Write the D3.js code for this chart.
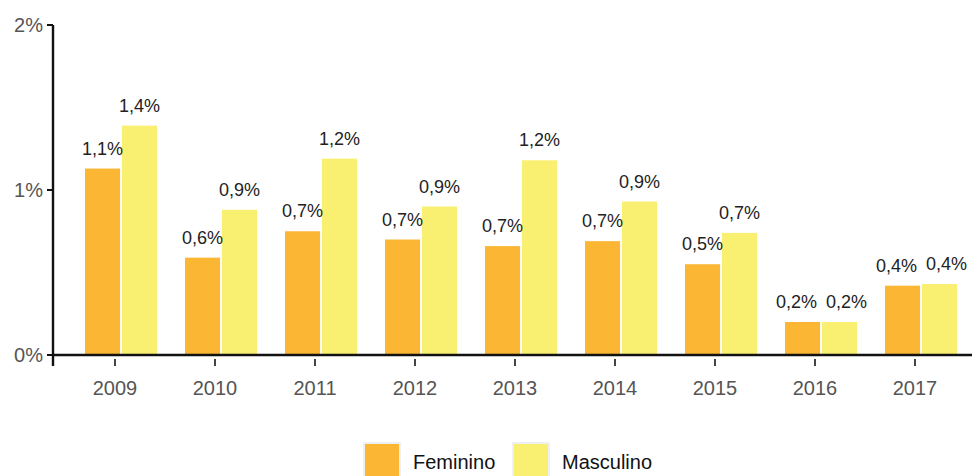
<!DOCTYPE html>
<html>
<head>
<meta charset="utf-8">
<script src="https://cdn.jsdelivr.net/npm/d3@7"></script>
<style>
  body { margin: 0; background: #fff; }
  text { font-family: Arial, "Liberation Sans", sans-serif; }
</style>
</head>
<body>
<script>
let years = ["2009", "2010", "2011", "2012", "2013", "2014", "2015", "2016", "2017"];
let keys = ["Feminino", "Masculino"];
let feminino = [1.13, 0.59, 0.75, 0.70, 0.66, 0.69, 0.55, 0.20, 0.42];
let masculino = [1.39, 0.88, 1.19, 0.90, 1.18, 0.93, 0.74, 0.20, 0.43];
let labelsF = ["1,1%", "0,6%", "0,7%", "0,7%", "0,7%", "0,7%", "0,5%", "0,2%", "0,4%"];
let labelsM = ["1,4%", "0,9%", "1,2%", "0,9%", "1,2%", "0,9%", "0,7%", "0,2%", "0,4%"];
let yTicks = [0, 1, 2];
let colors = ["#fbb634", "#f9ef70"];

let width = 972, height = 476;

let svg = d3.select("body").append("svg")
    .attr("width", width)
    .attr("height", height)

let y = d3.scaleLinear().domain([0, 2]).range([355, 25]);

// bars
let x = d3.scaleBand().domain(years).range([71, 971])
    .paddingInner(0.28).paddingOuter(0.14);
let xSub = d3.scaleBand().domain(keys).range([0, x.bandwidth()]).paddingInner(0.05);
// axis ticks sit a bit left of the bar groups
let xAxisScale = d3.scaleBand().domain(years).range([65, 965]);

let rows = years.map((yr, i) => {
    // labels at nearly the same height get pushed apart
    let close = Math.abs(y(feminino[i]) - y(masculino[i])) < 18;
    return {
        year: yr,
        vals: [
            {key: "Feminino", v: feminino[i], label: labelsF[i], dx: close ? -6 : 0},
            {key: "Masculino", v: masculino[i], label: labelsM[i], dx: close ? 7 : 0}
        ]
    };
});

let groups = svg.selectAll("g.grp").data(rows).enter()
    .append("g")
    .attr("class", "grp")
    .attr("transform", d => "translate(" + x(d.year) + ",0)")

groups.selectAll("rect").data(d => d.vals).enter()
    .append("rect")
    .attr("x", d => xSub(d.key))
    .attr("y", d => y(d.v))
    .attr("width", xSub.bandwidth())
    .attr("height", d => y(0) - y(d.v))
    .attr("fill", (d, i) => colors[i])

groups.selectAll("text").data(d => d.vals).enter()
    .append("text")
    .attr("x", d => xSub(d.key) + xSub.bandwidth() / 2 + d.dx)
    .attr("y", d => y(d.v) - 14)
    .attr("text-anchor", "middle")
    .attr("font-size", 18)
    .attr("fill", "#222")
    .text(d => d.label)

// x axis
svg.append("line")
    .attr("x1", 53).attr("x2", width)
    .attr("y1", y(0)).attr("y2", y(0))
    .attr("stroke", "#111").attr("stroke-width", 2.4)

let xTicks = svg.selectAll("g.xt").data(years).enter()
    .append("g")
    .attr("class", "xt")
    .attr("transform", d => "translate(" + (xAxisScale(d) + xAxisScale.bandwidth() / 2) + "," + y(0) + ")")

xTicks.append("line")
    .attr("y1", 4).attr("y2", 11)
    .attr("stroke", "#444").attr("stroke-width", 2)

xTicks.append("text")
    .attr("y", 40)
    .attr("text-anchor", "middle")
    .attr("font-size", 20)
    .attr("fill", "#555")
    .text(d => d)

// y axis
svg.append("line")
    .attr("x1", 53).attr("x2", 53)
    .attr("y1", y(2)).attr("y2", y(0) + 11)
    .attr("stroke", "#111").attr("stroke-width", 2.4)

let yt = svg.selectAll("g.yt").data(yTicks).enter()
    .append("g")
    .attr("class", "yt")
    .attr("transform", d => "translate(53," + y(d) + ")")

yt.append("line")
    .attr("x1", -6).attr("x2", 0)
    .attr("stroke", "#111").attr("stroke-width", 2)

yt.append("text")
    .attr("x", -10)
    .attr("dy", "0.35em")
    .attr("text-anchor", "end")
    .attr("font-size", 20)
    .attr("fill", "#555")
    .text(d => d + "%")

// legend
let legendX = [364, 513];
let legend = svg.selectAll("g.lg").data(keys).enter()
    .append("g")
    .attr("class", "lg")
    .attr("transform", (d, i) => "translate(" + legendX[i] + ",443)")

legend.append("rect")
    .attr("width", 36).attr("height", 36)
    .attr("fill", (d, i) => colors[i])
    .attr("stroke", "#eef0f2").attr("stroke-width", 2)

legend.append("text")
    .attr("x", 49)
    .attr("y", 26)
    .attr("font-size", 20)
    .attr("fill", "#111")
    .text(d => d)
</script>
</body>
</html>
